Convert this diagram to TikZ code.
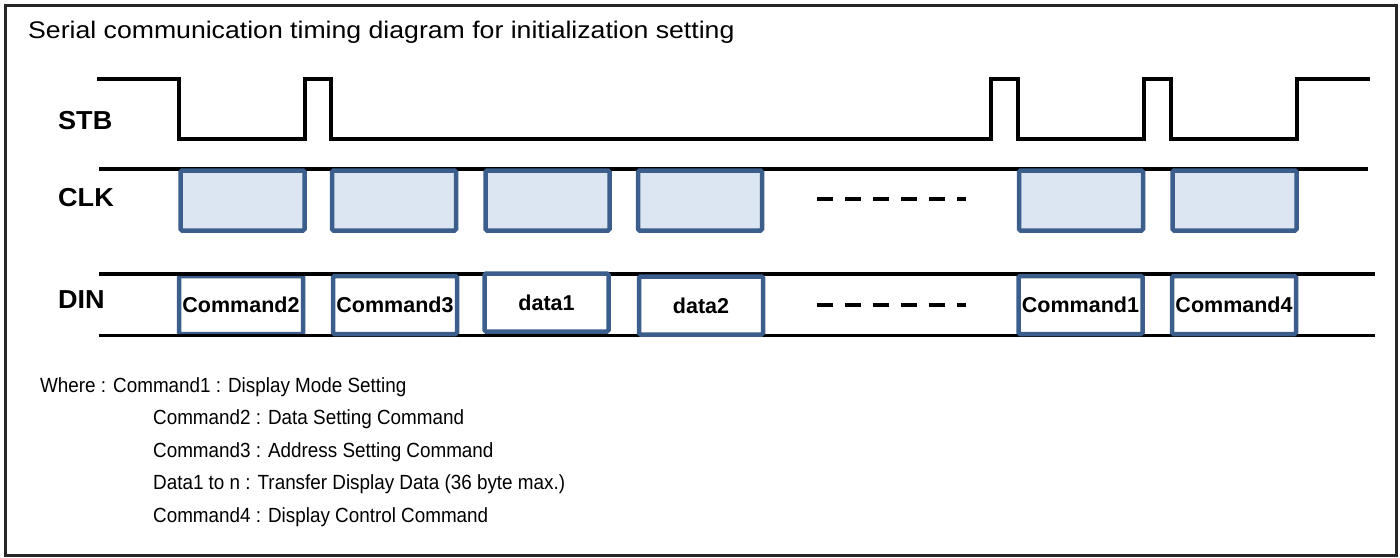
\documentclass[tikz,border=0pt]{standalone}
\usepackage{fontspec}
\setmainfont{Liberation Sans}
\definecolor{boxline}{HTML}{3B5E8C}
\definecolor{boxfill}{HTML}{DCE6F2}
\begin{document}
\begin{tikzpicture}[x=1pt,y=-1pt,
  sig/.style={line width=3.5pt,line join=miter},
  clkbox/.style={draw=boxline,fill=boxfill,line width=4.5pt,rounded corners=1.5pt,
    minimum width=124pt,minimum height=60pt,inner sep=0pt},
  dinbox/.style={draw=boxline,fill=white,line width=4.5pt,rounded corners=1.5pt,
    minimum width=124pt,minimum height=58pt,inner sep=0pt,
    font=\fontsize{21.5}{24}\selectfont\bfseries},
  siglabel/.style={anchor=base west,inner sep=0pt,xscale=1.04,
    font=\fontsize{26}{28}\selectfont\bfseries},
  legend/.style={anchor=base west,inner sep=0pt,xscale=0.92,
    font=\fontsize{20.5}{23}\selectfont},
  gap/.style={line width=4pt,dash pattern=on 16pt off 12pt}]
\useasboundingbox (0,0) rectangle (1400,557);
% outer frame
\draw[line width=3pt,black!85] (5.5,5.5) rectangle (1396.5,555.5);
\node[anchor=base west,inner sep=0pt,xscale=1.11,font=\fontsize{24}{28}\selectfont] (title) at (28,38)
  {Serial communication timing diagram for initialization setting};

% signal names
\node[siglabel] (stb) at (58,129) {STB};
\node[siglabel] (clk) at (58,206) {CLK};
\node[siglabel] (din) at (58,308) {DIN};

% STB waveform
\draw[sig] (97,79) -- (179,79) -- (179,139) -- (305,139) -- (305,79) -- (331,79)
  -- (331,139) -- (991,139) -- (991,79) -- (1018,79) -- (1018,139) -- (1144,139)
  -- (1144,79) -- (1171,79) -- (1171,139) -- (1297,139) -- (1297,79) -- (1370,79);

% CLK line and clock groups
\draw[sig] (99,169) -- (1368,169);
\node[clkbox] (k1) at (242.5,200.5) {};
\node[clkbox] (k2) at (394,200.5) {};
\node[clkbox] (k3) at (547.5,200.5) {};
\node[clkbox] (k4) at (700,200.5) {};
\node[clkbox] (k5) at (1081,200.5) {};
\node[clkbox] (k6) at (1234.5,200.5) {};
\draw[gap] (817,199) -- (966,199);

% DIN bytes
\node[dinbox] (b1) at (241,305) {Command2};
\draw[sig] (99,274) -- (1375,274);
\draw[sig] (99,335.5) -- (1375,335.5);
\node[dinbox] (b2) at (395,305) {Command3};
\node[dinbox] (b3) at (546.5,302.5) {data1};
\node[dinbox] (b4) at (701,305.5) {data2};
\node[dinbox] (b5) at (1080.5,305) {Command1};
\node[dinbox] (b6) at (1234,305) {Command4};
\draw[gap] (817,305) -- (966,305);

% legend
\node[legend] (l1) at (40,392) {Where : Command1 : Display Mode Setting};
\node[legend] (l2) at (153,424) {Command2 : Data Setting Command};
\node[legend] (l3) at (153,457) {Command3 : Address Setting Command};
\node[legend] (l4) at (153,489) {Data1 to n : Transfer Display Data (36 byte max.)};
\node[legend] (l5) at (153,522) {Command4 : Display Control Command};
\end{tikzpicture}
\end{document}
